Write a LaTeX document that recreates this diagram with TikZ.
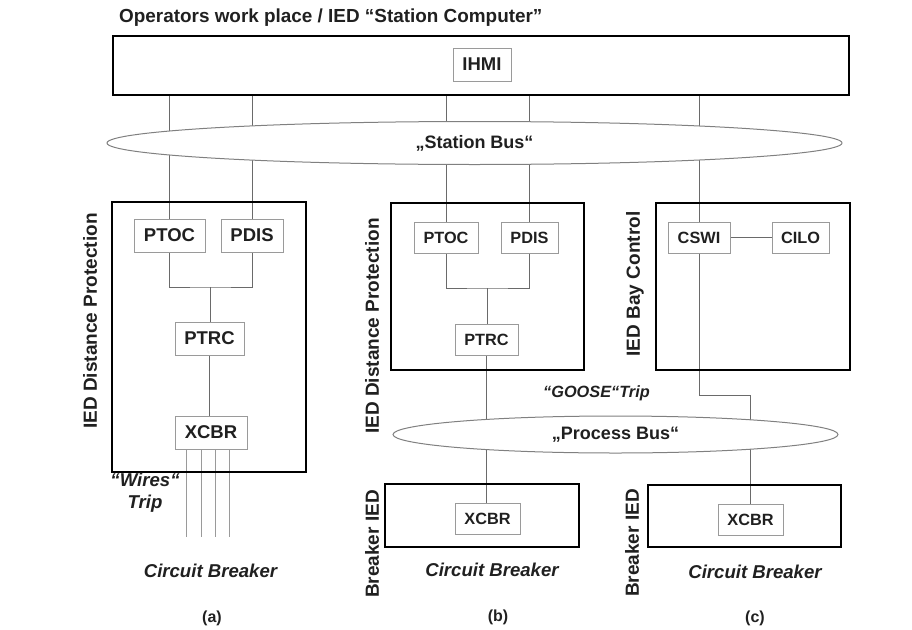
\documentclass[tikz,border=0pt]{standalone}
\usepackage{fontspec}
\setmainfont{Liberation Sans}
\usetikzlibrary{shapes.geometric,backgrounds}

\definecolor{wiregray}{HTML}{6A6A6A}
\definecolor{boxgray}{HTML}{9A9A9A}
\definecolor{txtgray}{HTML}{202020}

\begin{document}
\begin{tikzpicture}[
  x=1pt, y=-1pt,
  every node/.style={text=txtgray},
  ied/.style 2 args={draw=black, line width=2.6pt, minimum width=#1, minimum height=#2, inner sep=0pt},
  ln/.style={draw=boxgray, line width=1pt, minimum width=#1, minimum height=33, inner sep=0pt,
             font=\bfseries\fontsize{18.5}{20}\selectfont},
  lns/.style={ln=#1, minimum height=31, font=\bfseries\fontsize{16.3}{18}\selectfont},
  bus/.style 2 args={ellipse, draw=gray, line width=1pt, fill=white, minimum width=#1, minimum height=#2,
             inner sep=0pt, font=\bfseries\fontsize{18}{20}\selectfont},
  side/.style={rotate=90, inner sep=0pt, font=\bfseries\fontsize{19}{21}\selectfont},
  lbl/.style={inner sep=0pt, align=center, font=\bfseries\itshape\fontsize{18.6}{22}\selectfont},
  subcap/.style={inner sep=0pt, font=\bfseries\fontsize{16}{18}\selectfont},
  wire/.style={draw=wiregray, line width=1pt}
]
  \useasboundingbox (0,0) rectangle (912,629);

  %-- Station level
  \node[anchor=west, inner sep=0pt, font=\bfseries\fontsize{18.9}{21}\selectfont] (title) at (119,18)
       {Operators work place / IED “Station Computer”};
  \node[ied={736}{59}] (stcomp) at (481,65.5) {};
  \node[ln=58]         (ihmi)   at (482,64.5) {IHMI};
  \node[bus={735}{43}] (stbus)  at (474.5,143) {„Station Bus“};

  %-- (a) distance protection, wired trip
  \node[ied={194}{270}] (protA) at (209,337)     {};
  \node[ln=71]          (ptocA) at (169.5,235.5) {PTOC};
  \node[ln=62]          (pdisA) at (252,235.5)   {PDIS};
  \node[ln=69]          (ptrcA) at (209.5,338.5) {PTRC};
  \node[ln=72]          (xcbrA) at (211,432.5)   {XCBR};
  \coordinate           (joinA) at (210,287);

  %-- (b) distance protection, GOOSE trip
  \node[ied={193}{167}] (protB) at (487.5,286.5) {};
  \node[lns=64]         (ptocB) at (446,237.5)   {PTOC};
  \node[lns=57]         (pdisB) at (529.5,237.5) {PDIS};
  \node[lns=63]         (ptrcB) at (486.5,339.5) {PTRC};
  \coordinate           (joinB) at (487,288);
  \node[bus={445}{37}]  (prbus) at (615.5,434.5) {„Process Bus“};
  \node[ied={194}{63}]  (brkB)  at (482,515.5)   {};
  \node[lns=65]         (xcbrB) at (487.5,519)   {XCBR};

  %-- (c) bay control
  \node[ied={194}{167}] (bayC)  at (753,286.5)   {};
  \node[lns=62]         (cswi)  at (699,237.5)   {CSWI};
  \node[lns=57]         (cilo)  at (800.5,237.5) {CILO};
  \node[ied={193}{62}]  (brkC)  at (744.5,516)   {};
  \node[lns=65]         (xcbrC) at (750.5,519.5) {XCBR};
  \coordinate           (bendC) at (699,395);

  %-- Labels
  \node[side] (sideA)  at (90,321)  {IED Distance Protection};
  \node[side] (sideB)  at (372,326) {IED Distance Protection};
  \node[side] (sideBb) at (372,544) {Breaker IED};
  \node[side] (sideC)  at (635,284) {IED Bay Control};
  \node[side] (sideCb) at (632,543) {Breaker IED};
  \node[lbl]  (wires)  at (145,493) {“Wires“\\Trip};
  \node[lbl, font=\bfseries\itshape\fontsize{16.3}{18}\selectfont] (goose) at (596.5,393) {“GOOSE“Trip};
  \node[lbl]  (cbA)    at (210.5,571) {Circuit Breaker};
  \node[lbl]  (cbB)    at (492,570)   {Circuit Breaker};
  \node[lbl]  (cbC)    at (755,572)   {Circuit Breaker};
  \node[subcap] (capA) at (212,618)   {(a)};
  \node[subcap] (capB) at (498,617)   {(b)};
  \node[subcap] (capC) at (755,618)   {(c)};

  %-- Connections
  \begin{scope}[on background layer]
    \draw[wire] (ptocA.north) -- (ptocA.north |- stcomp.south);
    \draw[wire] (pdisA.north) -- (pdisA.north |- stcomp.south);
    \draw[wire] (ptocB.north) -- (ptocB.north |- stcomp.south);
    \draw[wire] (pdisB.north) -- (pdisB.north |- stcomp.south);
    \draw[wire] (cswi.north)  -- (cswi.north |- stcomp.south);

    \draw[wire] (ptocA.south) |- (joinA) -| (pdisA.south);
    \draw[wire] (joinA) -- (joinA |- ptrcA.north);
    \draw[wire] (ptrcA.south) -- (ptrcA.south |- xcbrA.north);
    \foreach \dx in {12,27,41,55}
      \draw[draw=boxgray, line width=1pt] ([xshift=\dx]xcbrA.south west) -- ++(0,87);

    \draw[wire] (ptocB.south) |- (joinB) -| (pdisB.south);
    \draw[wire] (joinB) -- (joinB |- ptrcB.north);
    \draw[wire] (ptrcB.south) -- (ptrcB.south |- xcbrB.north);

    \draw[wire] (cswi.east) -- (cilo.west);
    \draw[wire] (cswi.south) -- (bendC) -| (xcbrC.north);
  \end{scope}
\end{tikzpicture}
\end{document}
